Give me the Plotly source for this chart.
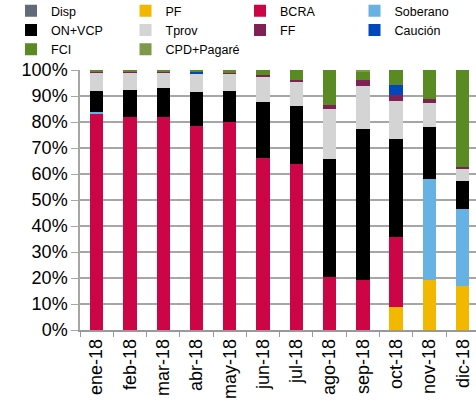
import plotly.graph_objects as go

months = ["ene-18", "feb-18", "mar-18", "abr-18", "may-18", "jun-18",
          "jul-18", "ago-18", "sep-18", "oct-18", "nov-18", "dic-18"]

disp     = [0, 0, 0, 0, 0, 0, 0, 0, 0, 0, 0, 0]
pf       = [0, 0, 0, 0, 0, 0, 0, 0, 0, 9.0, 19.2, 16.9]
bcra     = [83.4, 82.3, 81.8, 78.5, 79.9, 66.0, 63.6, 20.3, 19.2, 26.9, 0, 0]
soberano = [0.6, 0, 0, 0, 0, 0, 0, 0, 0, 0, 38.7, 29.6]
on_vcp   = [8.0, 10.4, 11.1, 13.2, 12.2, 21.8, 22.3, 45.3, 58.1, 37.6, 20.3, 10.9]
tprov    = [7.0, 6.8, 6.1, 6.8, 6.6, 9.6, 9.7, 19.5, 16.7, 14.5, 9.2, 4.8]
ff       = [0.3, 0.3, 0.3, 0.3, 0.3, 0.6, 0.6, 1.4, 2.3, 2.4, 1.3, 0.6]
caucion  = [0, 0, 0, 0.5, 0, 0, 0, 0, 0, 4.0, 0, 0]
fci      = [0.8, 0.5, 0.7, 0.7, 1.0, 2.0, 3.7, 13.5, 2.8, 5.6, 11.3, 37.2]
cpd      = [0, 0, 0, 0, 0, 0, 0, 0, 0.9, 0, 0, 0]

series = [
    ("Disp", disp, "#5f6b76"),
    ("PF", pf, "#f2b800"),
    ("BCRA", bcra, "#cc0547"),
    ("Soberano", soberano, "#66b2e4"),
    ("ON+VCP", on_vcp, "#000000"),
    ("Tprov", tprov, "#d4d4d4"),
    ("FF", ff, "#7f2154"),
    ("Caución", caucion, "#0047bb"),
    ("FCI", fci, "#5a8a22"),
    ("CPD+Pagaré", cpd, "#7d9a48"),
]

fig = go.Figure()
for name, vals, col in series:
    fig.add_trace(go.Bar(x=months, y=vals, name=name, marker_color=col,
                         marker_line_width=0))

fig.update_layout(
    width=476, height=412,
    margin=dict(l=80, r=0, t=70, b=82, autoexpand=False),
    barmode="stack", barnorm="percent", bargap=0.6,
    plot_bgcolor="white", paper_bgcolor="white",
    font=dict(family="Liberation Sans, Arial, sans-serif", color="#000000"),
    legend=dict(orientation="h", x=-0.1742, xanchor="left", y=1.284, yanchor="top",
                entrywidth=69.5, entrywidthmode="pixels", traceorder="normal",
                font=dict(size=12.5), bgcolor="rgba(0,0,0,0)", itemclick=False),
    xaxis=dict(type="category", range=[-0.5, 11.4], tickangle=-90,
               tickfont=dict(size=18), tickson="boundaries", ticks="outside",
               ticklen=5, tickcolor="#999999", showline=True, linecolor="#999999",
               linewidth=1.5, showgrid=False, automargin=False),
    yaxis=dict(range=[0, 100], dtick=10, ticksuffix="%", tickfont=dict(size=18),
               showgrid=True, gridcolor="#a6a6a6", gridwidth=1.5,
               ticks="outside", ticklen=7, tickcolor="#a6a6a6", automargin=False,
               showline=True, linecolor="#a6a6a6", linewidth=1.5, zeroline=False),
)

fig.write_html("out.html", config={"displayModeBar": False},
               post_script="document.body.style.margin='0px';document.body.style.overflow='hidden';")
